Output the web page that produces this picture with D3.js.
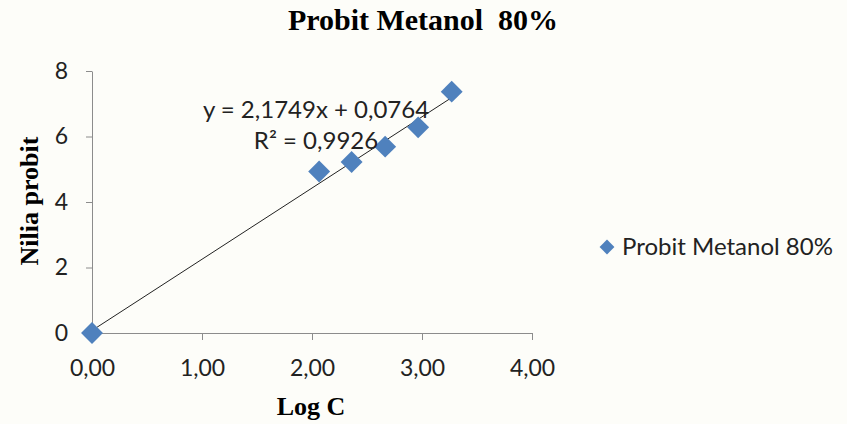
<!DOCTYPE html>
<html>
<head>
<meta charset="utf-8">
<script src="https://cdn.jsdelivr.net/npm/d3@7/dist/d3.min.js"></script>
<style>
  body { margin: 0; background: #fdfdf9; }
  svg { display: block; }
</style>
</head>
<body>
<div id="chart"></div>
<script>
const logC = [0, 2.065, 2.36, 2.665, 2.965, 3.27];
const probit = [0, 4.93, 5.22, 5.69, 6.28, 7.37];
const xTicks = [0, 1, 2, 3, 4];
const yTicks = [0, 2, 4, 6, 8];
const slope = 2.1749, intercept = 0.0764;
const seriesName = 'Probit Metanol 80%';

const width = 847, height = 424;
const blue = '#4f81bd';
const sans = 'Lato, "Open Sans", sans-serif';
const serif = '"Liberation Serif", "DejaVu Serif", serif';

const svg = d3.select('#chart').append('svg')
  .attr('width', width)
  .attr('height', height);

const x = d3.scaleLinear().domain([0, 4]).range([92, 532]);
const y = d3.scaleLinear().domain([0, 8]).range([333, 71]);

// axes
const xAxis = svg.append('g')
  .attr('transform', `translate(0,${y(0)})`)
  .call(d3.axisBottom(x).tickValues(xTicks).tickSize(7).tickSizeOuter(0)
    .tickFormat(d => d3.format('.2f')(d).replace('.', ',')));
const yAxis = svg.append('g')
  .attr('transform', `translate(${x(0)},0)`)
  .call(d3.axisLeft(y).tickValues(yTicks).tickSize(6).tickSizeOuter(0));

[xAxis, yAxis].forEach(a => {
  a.select('.domain').attr('stroke', '#8c8c8c');
  a.selectAll('.tick line').attr('stroke', '#8c8c8c');
  a.selectAll('text')
    .attr('font-family', sans)
    .attr('font-size', 23)
    .attr('fill', '#222');
});
xAxis.selectAll('text').attr('dy', '1.45em');
yAxis.selectAll('text').attr('x', -24);

// trend line
const xMin = d3.min(logC), xMax = d3.max(logC);
svg.append('line')
  .attr('x1', x(xMin)).attr('y1', y(slope * xMin + intercept))
  .attr('x2', x(xMax)).attr('y2', y(slope * xMax + intercept))
  .attr('stroke', '#222')
  .attr('stroke-width', 1);

// points
const diamond = d3.symbol().type(d3.symbolSquare).size(240);
svg.selectAll('path.pt')
  .data(logC.map((v, i) => ({ x: v, y: probit[i] })))
  .enter().append('path')
  .attr('class', 'pt')
  .attr('d', diamond)
  .attr('transform', d => `translate(${x(d.x)},${y(d.y)}) rotate(45)`)
  .attr('fill', blue);

// equation
svg.append('text')
  .attr('x', 316).attr('y', 118)
  .attr('text-anchor', 'middle')
  .attr('font-family', sans).attr('font-size', 24).attr('fill', '#222')
  .text('y = 2,1749x + 0,0764');
svg.append('text')
  .attr('x', 316).attr('y', 149)
  .attr('text-anchor', 'middle')
  .attr('font-family', sans).attr('font-size', 24).attr('fill', '#222')
  .text('R² = 0,9926');

// title and axis labels
svg.append('text')
  .attr('x', 423).attr('y', 30)
  .attr('text-anchor', 'middle')
  .attr('font-family', serif).attr('font-weight', 'bold').attr('font-size', 30)
  .attr('xml:space', 'preserve')
  .text('Probit Metanol  80%');
svg.append('text')
  .attr('x', 311).attr('y', 415)
  .attr('text-anchor', 'middle')
  .attr('font-family', serif).attr('font-weight', 'bold').attr('font-size', 26)
  .text('Log C');
svg.append('text')
  .attr('transform', 'translate(38,201) rotate(-90)')
  .attr('text-anchor', 'middle')
  .attr('font-family', serif).attr('font-weight', 'bold').attr('font-size', 26)
  .text('Nilia  probit');

// legend
const legend = svg.append('g').attr('transform', 'translate(607,247)');
legend.append('path')
  .attr('d', d3.symbol().type(d3.symbolSquare).size(110))
  .attr('transform', 'rotate(45)')
  .attr('fill', blue);
legend.append('text')
  .attr('x', 15).attr('y', 0).attr('dy', '0.35em')
  .attr('font-family', sans).attr('font-size', 24).attr('fill', '#222')
  .text(seriesName);
</script>
</body>
</html>
